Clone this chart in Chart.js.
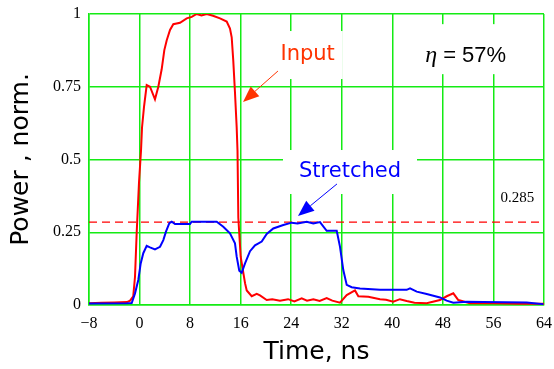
<!DOCTYPE html>
<html>
<head>
<meta charset="utf-8">
<script src="https://cdn.jsdelivr.net/npm/chart.js@4.4.1/dist/chart.umd.min.js"></script>
<style>
  html, body { margin: 0; padding: 0; background: #ffffff; }
  #c { display: block; }
</style>
</head>
<body>
<canvas id="c" width="554" height="369"></canvas>
<script>
// ---- Data ----
const inputTime = [-8, -6, -4, -2, -1.5, -1.0, -0.72, -0.45, -0.09, 0.23, 0.39, 0.70, 1.13, 1.65, 2.44, 2.97, 3.50, 3.92, 4.30, 4.82, 5.34, 6.40, 7.46, 8.25, 9.04, 9.8, 10.63, 11.62, 12.73, 13.79, 14.31, 14.58, 14.83, 15.10, 15.37, 15.5, 15.63, 16.0, 16.69, 16.96, 17.75, 18.54, 19.06, 20.12, 21, 22.22, 23.5, 24.5, 25.66, 26.5, 27.5, 28.5, 29.61, 30.5, 31.72, 32.78, 34.09, 34.62, 36.2, 38.05, 39, 40.15, 41.2, 42.27, 43.5, 45.44, 47.54, 48.6, 49.65, 50.44, 52.29, 56, 60, 64];
const inputPower = [0.006, 0.008, 0.009, 0.01, 0.015, 0.03, 0.097, 0.25, 0.42, 0.53, 0.61, 0.68, 0.756, 0.75, 0.707, 0.75, 0.81, 0.876, 0.91, 0.945, 0.965, 0.97, 0.985, 0.99, 1.0, 0.995, 1.0, 0.994, 0.985, 0.974, 0.95, 0.92, 0.84, 0.73, 0.61, 0.53, 0.30, 0.166, 0.075, 0.05, 0.03, 0.038, 0.033, 0.017, 0.02, 0.015, 0.02, 0.012, 0.023, 0.015, 0.02, 0.014, 0.024, 0.015, 0.008, 0.034, 0.05, 0.03, 0.028, 0.02, 0.018, 0.011, 0.02, 0.014, 0.008, 0.006, 0.017, 0.03, 0.04, 0.017, 0.006, 0.006, 0.004, 0.004];

const stretchedTime = [-8, -2, -1.24, -0.72, -0.20, 0.18, 0.59, 1.13, 1.65, 2.44, 3.24, 3.76, 4.18, 4.71, 5.09, 5.61, 7.98, 8.25, 12.21, 13.25, 14.31, 15.10, 15.37, 15.78, 16.16, 16.69, 17.48, 18.27, 19.33, 20.12, 21.16, 22.75, 24.08, 25, 26.45, 27.5, 28.55, 29.61, 31.2, 31.72, 32.24, 32.78, 33.57, 34.88, 38.05, 42.27, 42.8, 43.86, 45.44, 47.54, 48.6, 49.65, 51.77, 54.4, 61.26, 63.9];
const stretchedPower = [0.005, 0.006, 0.007, 0.04, 0.086, 0.143, 0.178, 0.203, 0.198, 0.191, 0.2, 0.223, 0.252, 0.281, 0.286, 0.278, 0.278, 0.286, 0.286, 0.269, 0.246, 0.212, 0.166, 0.118, 0.111, 0.143, 0.185, 0.205, 0.218, 0.244, 0.263, 0.275, 0.283, 0.28, 0.286, 0.28, 0.285, 0.255, 0.255, 0.2, 0.12, 0.069, 0.061, 0.057, 0.052, 0.052, 0.057, 0.046, 0.038, 0.026, 0.015, 0.008, 0.011, 0.01, 0.009, 0.003];

const xTicks = [-8, 0, 8, 16, 24, 32, 40, 48, 56, 64];
const yTicks = [0, 0.25, 0.5, 0.75, 1];
const referenceLevel = 0.285;
const referenceLabel = '0.285';
const efficiencyText = ' = 57%';

// ---- Build datasets ----
function pts(xs, ys) { return xs.map((x, i) => ({ x: x, y: ys[i] })); }

const GREEN = 'rgb(20,235,20)';
const RED = 'rgb(255,0,0)';
const BLUE = 'rgb(0,0,255)';
const LABEL_RED = 'rgb(255,51,0)';

// annotation anchors in data coordinates
const labels = [
  { text: 'Input', t: 26.6, v: 0.859, color: LABEL_RED, font: '21px "DejaVu Sans"', padX: 8, padY: 14 },
  { text: 'Stretched', t: 33.3, v: 0.457, color: BLUE, font: '21px "DejaVu Sans"', padX: 16, padY: 12 }
];
const arrows = [
  { from: [21.9, 0.804], to: [16.37, 0.698], color: LABEL_RED },
  { from: [31.24, 0.416], to: [25.07, 0.306], color: BLUE }
];
const etaAnchor = { t: 51.6, v: 0.862 };
const refLabelAnchor = { t: 59.8, v: 0.366 };

const annot = {
  id: 'annot',
  beforeDatasetsDraw(chart) {
    const ctx = chart.ctx, xs = chart.scales.x, ys = chart.scales.y;
    const area = chart.chartArea;
    ctx.save();
    // white boxes behind labels
    ctx.fillStyle = '#ffffff';
    labels.forEach(l => {
      ctx.font = l.font;
      const w = ctx.measureText(l.text).width;
      const cx = xs.getPixelForValue(l.t), cy = ys.getPixelForValue(l.v);
      ctx.fillRect(cx - w / 2 - l.padX, cy - 10 - l.padY, w + 2 * l.padX, 20 + 2 * l.padY);
    });
    // eta box
    {
      const cx = xs.getPixelForValue(etaAnchor.t), cy = ys.getPixelForValue(etaAnchor.v);
      ctx.fillRect(cx - 50, cy - 30, 100, 50);
    }
    // dashed reference line
    const yRef = ys.getPixelForValue(referenceLevel);
    ctx.strokeStyle = RED;
    ctx.lineWidth = 1.3;
    ctx.setLineDash([8, 5]);
    ctx.beginPath();
    ctx.moveTo(area.left, yRef);
    ctx.lineTo(area.right, yRef);
    ctx.stroke();
    ctx.setLineDash([]);
    ctx.restore();
  },
  afterDatasetsDraw(chart) {
    const ctx = chart.ctx, xs = chart.scales.x, ys = chart.scales.y;
    ctx.save();
    ctx.textAlign = 'center';
    ctx.textBaseline = 'middle';
    labels.forEach(l => {
      ctx.font = l.font;
      ctx.fillStyle = l.color;
      ctx.fillText(l.text, xs.getPixelForValue(l.t), ys.getPixelForValue(l.v));
    });
    // arrows
    arrows.forEach(a => {
      const x1 = xs.getPixelForValue(a.from[0]), y1 = ys.getPixelForValue(a.from[1]);
      const x2 = xs.getPixelForValue(a.to[0]), y2 = ys.getPixelForValue(a.to[1]);
      const ang = Math.atan2(y2 - y1, x2 - x1);
      const L = 16, H = 6.5;
      const bx = x2 - L * Math.cos(ang), by = y2 - L * Math.sin(ang);
      ctx.strokeStyle = a.color;
      ctx.fillStyle = a.color;
      ctx.lineWidth = 1;
      ctx.beginPath();
      ctx.moveTo(x1, y1);
      ctx.lineTo(bx, by);
      ctx.stroke();
      ctx.beginPath();
      ctx.moveTo(x2, y2);
      ctx.lineTo(bx + H * Math.sin(ang), by - H * Math.cos(ang));
      ctx.lineTo(bx - H * Math.sin(ang), by + H * Math.cos(ang));
      ctx.closePath();
      ctx.fill();
    });
    // eta text
    {
      const cx = xs.getPixelForValue(etaAnchor.t), cy = ys.getPixelForValue(etaAnchor.v);
      ctx.textBaseline = 'alphabetic';
      ctx.textAlign = 'left';
      ctx.font = 'italic 24px "Liberation Serif"';
      const wEta = ctx.measureText('\u03B7').width;
      ctx.font = '22px "Liberation Sans"';
      const wRest = ctx.measureText(efficiencyText).width;
      const x0 = cx - (wEta + wRest) / 2;
      ctx.fillStyle = '#000000';
      ctx.font = 'italic 24px "Liberation Serif"';
      ctx.fillText('\u03B7', x0, cy + 8);
      ctx.font = '22px "Liberation Sans"';
      ctx.fillText(efficiencyText, x0 + wEta, cy + 8);
    }
    // reference label
    ctx.textAlign = 'center';
    ctx.textBaseline = 'middle';
    ctx.font = '15px "Liberation Serif"';
    ctx.fillStyle = '#000000';
    ctx.fillText(referenceLabel, xs.getPixelForValue(refLabelAnchor.t), ys.getPixelForValue(refLabelAnchor.v));
    ctx.restore();
  }
};

new Chart(document.getElementById('c'), {
  type: 'line',
  data: {
    datasets: [
      { label: 'Stretched', data: pts(stretchedTime, stretchedPower), borderColor: BLUE, borderWidth: 2, pointRadius: 0, tension: 0, fill: false },
      { label: 'Input', data: pts(inputTime, inputPower), borderColor: RED, borderWidth: 2, pointRadius: 0, tension: 0, fill: false }
    ]
  },
  options: {
    responsive: false,
    animation: false,
    layout: { padding: { left: 0, right: 10, top: 14, bottom: 0 } },
    plugins: { legend: { display: false }, tooltip: { enabled: false } },
    scales: {
      x: {
        type: 'linear',
        min: xTicks[0], max: xTicks[xTicks.length - 1],
        afterBuildTicks: s => { s.ticks = xTicks.map(v => ({ value: v })); },
        afterFit: s => { s.height = 64; s.paddingLeft = 0; s.paddingRight = 0; },
        ticks: {
          color: '#000000',
          font: { family: '"Liberation Serif"', size: 16 },
          padding: 9,
          maxRotation: 0,
          callback: v => (v < 0 ? '\u2212' + Math.abs(v) : String(v))
        },
        grid: { color: GREEN, lineWidth: 1.5, drawTicks: false },
        border: { color: GREEN, width: 1.5 },
        title: { display: true, text: 'Time, ns', color: '#000000', font: { family: '"DejaVu Sans"', size: 25 }, padding: { top: 0, bottom: 2 } }
      },
      y: {
        min: yTicks[0], max: yTicks[yTicks.length - 1],
        afterBuildTicks: s => { s.ticks = yTicks.map(v => ({ value: v })); },
        afterFit: s => { s.width = 89; s.paddingTop = 0; s.paddingBottom = 0; },
        ticks: {
          color: '#000000',
          font: { family: '"Liberation Serif"', size: 16 },
          padding: 8,
          callback: v => String(v)
        },
        grid: { color: GREEN, lineWidth: 1.5, drawTicks: false },
        border: { color: GREEN, width: 1.5 },
        title: { display: true, text: 'Power , norm.', color: '#000000', font: { family: '"DejaVu Sans"', size: 25 }, padding: { top: 6, bottom: 0 } }
      }
    }
  },
  plugins: [annot]
});
</script>
</body>
</html>
